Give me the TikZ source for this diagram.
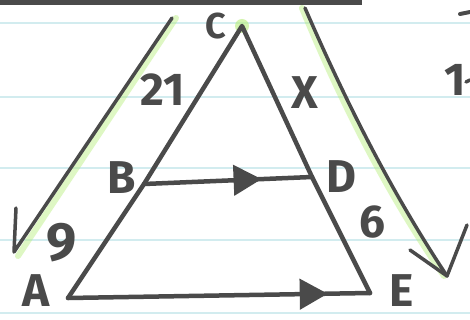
\documentclass[tikz,border=0pt]{standalone}
\usepackage{fontspec}
\setmainfont{Fira Sans}
\usetikzlibrary{arrows.meta,decorations.markings}
\definecolor{ink}{HTML}{4A4A4A}
\definecolor{rulecol}{HTML}{D2ECEF}
\definecolor{hl}{HTML}{B6EE7A}
\begin{document}
\begin{tikzpicture}[x=1pt,y=-1pt,
  inkline/.style={draw=ink,line width=4.5pt,line cap=round,line join=round},
  thinink/.style={draw=ink,line width=3.5pt,line cap=round,line join=round},
  hand/.style={text=ink,font=\fontsize{46}{46}\selectfont\bfseries,inner sep=0pt},
  glow/.style={draw=hl,line width=6pt,opacity=0.45,line cap=round},
  midarrow/.style={postaction={decorate},decoration={markings,mark=at position #1 with {\arrow{Triangle[length=28pt,width=30pt]}}}},
  paperrule/.style={draw=rulecol,line width=1.5pt}]
\useasboundingbox (0,0) rectangle (470,320);
\fill[white] (0,0) rectangle (470,320);
% paper rules
\foreach \yy in {23,97,168,240,313} \draw[paperrule] (0,\yy) -- (470,\yy);
% top shadow edge
\fill[ink] (0,-2) rectangle (362,5);
% points
\coordinate (C) at (242,26);
\coordinate (B) at (144,184);
\coordinate (A) at (68,298);
\coordinate (D) at (312,177);
\coordinate (E) at (370,293);
\coordinate (L1) at (172,18);
\coordinate (L2) at (14,252);
\coordinate (L3) at (16,208);
\coordinate (R1) at (305,8);
\coordinate (R2) at (447,276);
\coordinate (R3) at (410,250);
\coordinate (R4) at (467,225);
% highlights
\draw[glow] ([xshift=4pt]L1) -- ([xshift=4pt,yshift=-4pt]L2);
\draw[glow] ([xshift=-3pt]R1) .. controls (341,102) and (386,192) .. ([xshift=-3pt]R2);
\fill[hl,opacity=0.6] (C) circle (7pt);
% triangle
\draw[inkline] (A) -- (B) -- (C) -- (D) -- (E);
\draw[inkline,midarrow=0.7] (B) -- (D);
\draw[inkline,midarrow=0.86] (A) -- (E);
% side arrows
\draw[thinink] (L1) -- (L2) -- (L3);
\draw[thinink] (R1) .. controls (345,100) and (390,190) .. (R2);
\draw[thinink] (R3) -- (R2) -- (R4);
% labels
\node[hand,font=\fontsize{36}{36}\selectfont\bfseries] (lC) at (216,26) {C};
\node[hand] (l21) at (163,90) {21};
\node[hand] (lX) at (305,93) {X};
\node[hand] (lB) at (122,178) {B};
\node[hand] (lD) at (341,177) {D};
\node[hand] (l6) at (372,222) {6};
\node[hand,font=\fontsize{54}{54}\selectfont\bfseries] (l9) at (62,243) {9};
\node[hand] (lA) at (36,291) {A};
\node[hand] (lE) at (402,291) {E};
\node[hand] (l1) at (455,80) {1};
\draw[thinink,line width=4pt] (460,14) -- (470,12);
\draw[thinink] (466,82) -- (470,80);
\end{tikzpicture}
\end{document}
